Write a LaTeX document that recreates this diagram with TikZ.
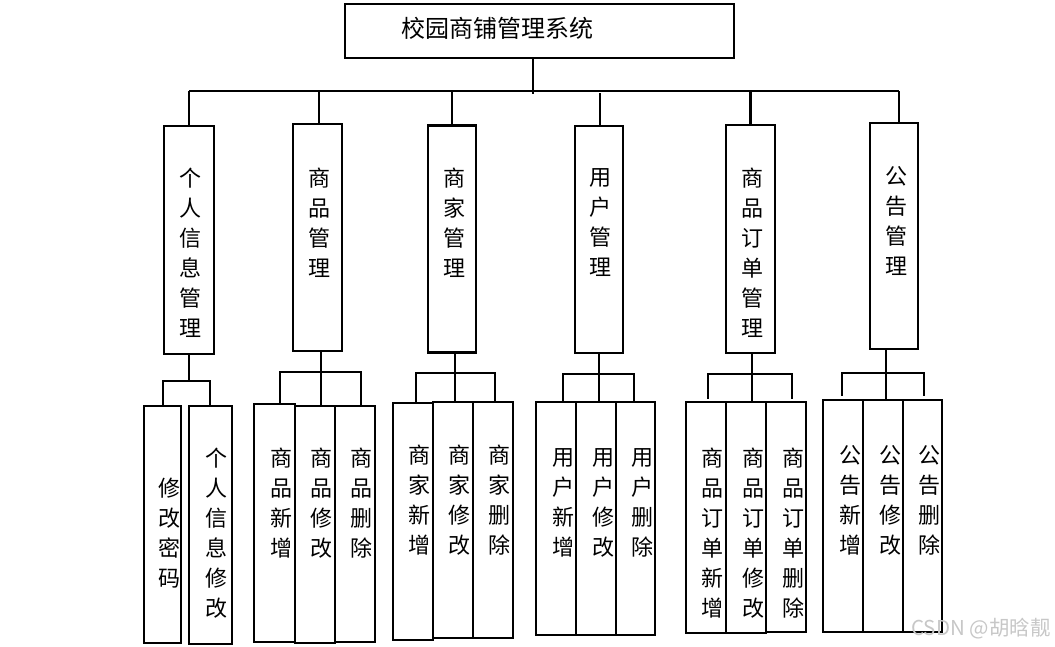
\documentclass[tikz,border=0pt]{standalone}
\usepackage{fontspec}
\newfontfamily\cjk{Noto Sans CJK SC}
\usetikzlibrary{positioning}

\begin{document}
\begin{tikzpicture}
    [x=1pt, y=-1pt,
    % Frame of every module
    module/.style={rectangle, draw=black, line width=2.2pt, inner sep=0pt},
    % Second layer frames
    modtwo/.style={module, minimum width=48pt, minimum height=227pt},
    % Third layer frames
    modthree/.style={module, minimum width=40pt},
    % Vertical names
    vname/.style={align=center, inner sep=0pt, anchor=north, font=\cjk\fontsize{22}{30}\selectfont},
    title/.style={inner sep=0pt, font=\cjk\fontsize{24}{28}\selectfont},
    line/.style={draw, line width=2.2pt}]
    \useasboundingbox (0,0) rectangle (1055,646);
    % Top layer
    \node [module, minimum width=389pt, minimum height=54pt] (sys) at (539.5,31) {};
    \node [title] (sys-t) at (497.5,28) {校园商铺管理系统};
    % Second layer
    \node [modtwo, minimum width=50pt, minimum height=228pt] (pim) at (189,240) {};
    \node [modtwo, minimum width=49pt] (gm)  at (317.5,237.5) {};
    \node [modtwo] (sm)  at (452,239) {};
    \node [modtwo] (um)  at (599,239.5) {};
    \node [modtwo, minimum width=49pt, minimum height=228pt] (om)  at (750.5,239) {};
    \node [modtwo, minimum height=226pt] (nm)  at (894,236) {};
    \node [vname] (pim-t) at (190,168) {个\\人\\信\\息\\管\\理};
    \node [vname] (gm-t)  at (319,168) {商\\品\\管\\理};
    \node [vname] (sm-t)  at (454,168) {商\\家\\管\\理};
    \node [vname] (um-t)  at (600,168) {用\\户\\管\\理};
    \node [vname] (om-t)  at (752,168) {商\\品\\订\\单\\管\\理};
    \node [vname] (nm-t)  at (896,166) {公\\告\\管\\理};
    % Third layer, personal information
    \node [modthree, minimum width=37pt, minimum height=237pt] (pw) at (162.5,524.5) {};
    \node [modthree, minimum width=43pt, minimum height=238pt] (pe) at (210.5,525) {};
    \node [vname] (pw-t) at (169,478) {修\\改\\密\\码};
    \node [vname] (pe-t) at (216,448) {个\\人\\信\\息\\修\\改};
    % Third layer, goods
    \node [modthree, minimum width=41pt, minimum height=238pt] (ga) at (274.5,523) {};
    \node [modthree, minimum height=237pt] (gu) at (315,524.5) {};
    \node [modthree, minimum height=236pt] (gd) at (355,524) {};
    \node [vname] (ga-t) at (281,448) {商\\品\\新\\增};
    \node [vname] (gu-t) at (321,448) {商\\品\\修\\改};
    \node [vname] (gd-t) at (361,448) {商\\品\\删\\除};
    % Third layer, shops
    \node [modthree, minimum height=237pt] (sa) at (413,521.5) {};
    \node [modthree, minimum height=236pt] (su) at (453,520) {};
    \node [modthree, minimum height=236pt] (sd) at (493,520) {};
    \node [vname] (sa-t) at (419,445) {商\\家\\新\\增};
    \node [vname] (su-t) at (459,445) {商\\家\\修\\改};
    \node [vname] (sd-t) at (499,445) {商\\家\\删\\除};
    % Third layer, users
    \node [modthree, minimum height=233pt] (ua) at (556,518.5) {};
    \node [modthree, minimum height=233pt] (uu) at (596,518.5) {};
    \node [modthree, minimum width=39pt, minimum height=233pt] (ud) at (635.5,518.5) {};
    \node [vname] (ua-t) at (563,448) {用\\户\\新\\增};
    \node [vname] (uu-t) at (603,448) {用\\户\\修\\改};
    \node [vname] (ud-t) at (642,448) {用\\户\\删\\除};
    % Third layer, orders
    \node [modthree, minimum height=231pt] (oa) at (706,517.5) {};
    \node [modthree, minimum height=231pt] (ou) at (746,517.5) {};
    \node [modthree, minimum height=230pt] (od) at (786,517) {};
    \node [vname] (oa-t) at (712,448) {商\\品\\订\\单\\新\\增};
    \node [vname] (ou-t) at (753,448) {商\\品\\订\\单\\修\\改};
    \node [vname] (od-t) at (793,448) {商\\品\\订\\单\\删\\除};
    % Third layer, notices
    \node [modthree, minimum height=232pt] (na) at (843,516) {};
    \node [modthree, minimum height=232pt] (nu) at (883,516) {};
    \node [modthree, minimum width=39pt, minimum height=232pt] (nd) at (922.5,516) {};
    \node [vname] (na-t) at (850,445) {公\\告\\新\\增};
    \node [vname] (nu-t) at (890,445) {公\\告\\修\\改};
    \node [vname] (nd-t) at (929,445) {公\\告\\删\\除};
    % Main bus
    \coordinate (bus-l) at (189,91);
    \coordinate (bus-r) at (899,91);
    \draw [line] (bus-l) -- (bus-r);
    \draw [line] ([xshift=-6.5pt]sys.south) -- ++(0,35);
    \draw [line] (pim.north) -- (pim.north |- bus-l);
    \draw [line] ([xshift=1.5pt]gm.north) -- ([xshift=1.5pt]gm.north |- bus-l);
    \draw [line] (sm.north) -- (sm.north |- bus-l);
    \draw [line] ([xshift=1pt]um.north) -- ++(0,-32);
    \draw [line] (om.north) -- (om.north |- bus-l);
    \draw [line] (bus-r) -- (bus-r |- nm.north);
    % Sub buses
    \coordinate (pim-bl) at (163,381);
    \coordinate (pim-br) at (210,381);
    \draw [line] (pim.south) -- (pim.south |- pim-bl);
    \draw [line] (pw.north -| pim-bl) -- (pim-bl) -- (pim-br) -- (pim-br |- pe.north);
    \coordinate (gm-bl) at (280,372);
    \coordinate (gm-br) at (361,372);
    \draw [line] ([xshift=3.5pt]gm.south) -- ([xshift=3.5pt]gm.south |- gu.north);
    \draw [line] (ga.north -| gm-bl) -- (gm-bl) -- (gm-br) -- (gm-br |- gd.north);
    \coordinate (sm-bl) at (416,373);
    \coordinate (sm-br) at (495,373);
    \draw [line] ([xshift=3pt]sm.south) -- ([xshift=3pt]sm.south |- su.north);
    \draw [line] (sa.north -| sm-bl) -- (sm-bl) -- (sm-br) -- (sm-br |- sd.north);
    \coordinate (um-bl) at (563,374);
    \coordinate (um-br) at (634,374);
    \draw [line] (um.south) -- (um.south |- uu.north);
    \draw [line] (ua.north -| um-bl) -- (um-bl) -- (um-br) -- (um-br |- ud.north);
    \coordinate (om-bl) at (708,374);
    \coordinate (om-br) at (792,374);
    \draw [line] ([xshift=1.5pt]om.south) -- ([xshift=1.5pt]om.south |- ou.north);
    \draw [line] ([yshift=2pt]oa.north -| om-bl) -- (om-bl) -- (om-br) -- ([yshift=2pt]od.north -| om-br);
    \coordinate (nm-bl) at (842,373);
    \coordinate (nm-br) at (924,373);
    \draw [line] ([xshift=-8pt]nm.south) -- ([xshift=-8pt]nm.south |- nu.north);
    \draw [line] ([yshift=3pt]na.north -| nm-bl) -- (nm-bl) -- (nm-br) -- ([yshift=3pt]nd.north -| nm-br);
    % Watermark
    \node [inner sep=0pt, text=black!22, font=\cjk\fontsize{20.5}{24}\selectfont] (mark) at (981,629) {CSDN @胡晗靓};
\end{tikzpicture}
\end{document}
